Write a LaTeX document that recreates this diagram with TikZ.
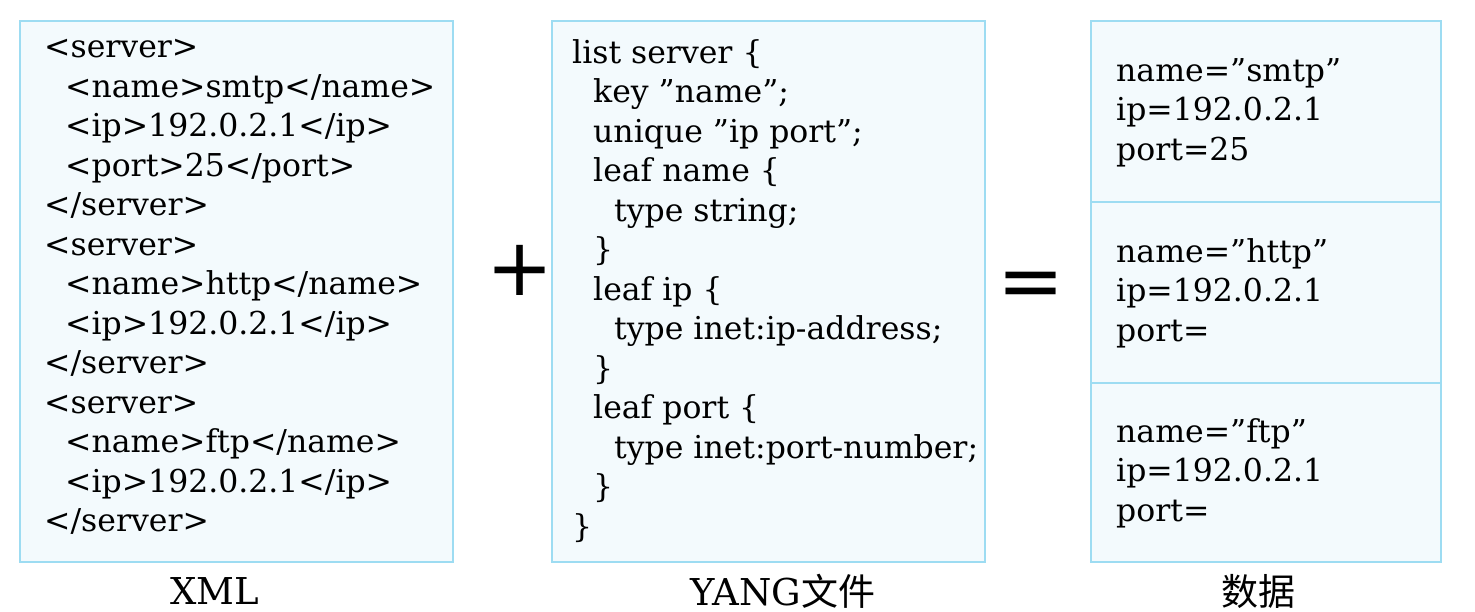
\documentclass[tikz,border=0pt]{standalone}
\usepackage{fontspec}
\setmainfont{DejaVu Serif}[Ligatures=ResetAll]
\newfontfamily\cjk{Noto Sans CJK SC}
\newfontfamily\sans{DejaVu Sans}
\definecolor{boxfill}{HTML}{F3FAFD}
\definecolor{boxline}{HTML}{9DDCF2}
\newcommand{\ind}{\hspace*{21pt}}
\newcommand{\dq}{\symbol{34}}
\begin{document}
\begin{tikzpicture}[x=1pt,y=-1pt,
  box/.style={draw=boxline,fill=boxfill,line width=2pt},
  code/.style={anchor=north west,align=left,inner sep=0pt,font=\fontsize{31.5}{39.5}\selectfont},
  lab/.style={font=\fontsize{37}{40}\selectfont}]
\useasboundingbox (0,0) rectangle (1475,612);
\draw[box] (20,21) rectangle (453,562);
\draw[box] (552,21) rectangle (985,562);
\draw[box] (1091,21) rectangle (1441,562);
\draw[boxline,line width=2pt] (1091,202) -- (1441,202) (1091,383) -- (1441,383);
\node[code] (xml) at (44,39) {<server>\\
\ind<name>smtp</name>\\
\ind<ip>192.0.2.1</ip>\\
\ind<port>25</port>\\
</server>\\
<server>\\
\ind<name>http</name>\\
\ind<ip>192.0.2.1</ip>\\
</server>\\
<server>\\
\ind<name>ftp</name>\\
\ind<ip>192.0.2.1</ip>\\
</server>};
\node[code] (yang) at (572,39) {list server \{\\
\ind key \dq name\dq;\\
\ind unique \dq ip port\dq;\\
\ind leaf name \{\\
\ind\ind type string;\\
\ind\}\\
\ind leaf ip \{\\
\ind\ind type inet:ip-address;\\
\ind\}\\
\ind leaf port \{\\
\ind\ind type inet:port-number;\\
\ind\}\\
\}};
\node[code] (d1) at (1116,58) {name=\dq smtp\dq\\ip=192.0.2.1\\port=25};
\node[code] (d2) at (1116,238) {name=\dq http\dq\\ip=192.0.2.1\\port=};
\node[code] (d3) at (1116,418) {name=\dq ftp\dq\\ip=192.0.2.1\\port=};
\node[font=\sans\fontsize{80}{80}\selectfont] (plus) at (520,270) {+};
\node[font=\sans\fontsize{80}{80}\selectfont] (eq) at (1031,290) {=};
\node[lab] (l1) at (215,591) {XML};
\node[lab] (l2) at (783,591) {YANG{\cjk 文件}};
\node[lab] (l3) at (1258,591) {\cjk 数据};
\end{tikzpicture}
\end{document}
